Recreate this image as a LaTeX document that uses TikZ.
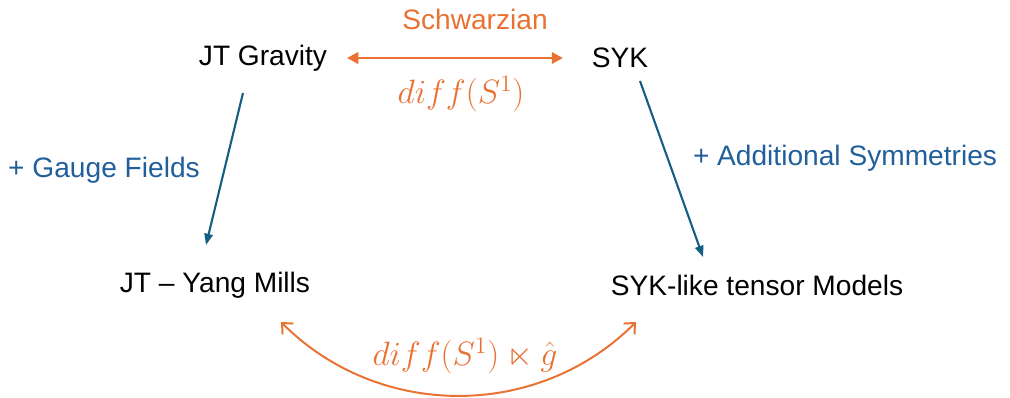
\RequirePackage{fix-cm}
\documentclass[tikz,border=0pt]{standalone}
\usepackage{amsmath,amssymb}
\usepackage{fontspec}
\setmainfont{Liberation Sans}
\usetikzlibrary{arrows.meta,calc}
\definecolor{accorange}{HTML}{E97132}
\definecolor{accblue}{HTML}{156082}
\definecolor{labblue}{HTML}{215F9A}

\begin{document}
\begin{tikzpicture}[x=0.025cm,y=-0.025cm,
  every node/.style={font=\fontsize{20}{24}\selectfont,inner sep=0pt},
  mathlab/.style={text=accorange,font=\fontsize{24}{28}\selectfont},
  sidelab/.style={text=labblue},
  duality/.style={accorange,line width=2pt,{Triangle[length=8pt,width=8pt]}-{Triangle[length=8pt,width=8pt]}},
  extend/.style={accblue,line width=1.5pt,-{Triangle[length=8pt,width=6pt]}},
  symmetry/.style={accorange,line width=1.4pt,{Straight Barb[length=6pt,width=11pt]}-{Straight Barb[length=6pt,width=11pt]}}]
  \useasboundingbox (0,0) rectangle (1010,397);
  \node (jt) at (263,58) {JT Gravity};
  \node (syk) at (620,58) {SYK};
  \node (jtym) at (215,285) {JT – Yang Mills};
  \node (skm) at (757,285) {SYK-like tensor Models};
  \node[text=accorange] (schw) at (475,19) {Schwarzian};
  \node[mathlab] (diffs) at (461,94) {$diff(S^1)$};
  \node[sidelab] (gauge) at (104,170) {+ Gauge Fields};
  \node[sidelab] (addsym) at (845,158) {+ Additional Symmetries};
  \node[mathlab] (semi) at (465,356) {$diff(S^1)\ltimes\hat{g}$};
  \draw[duality] ([shift={(84,0)}]jt.center) -- ([shift={(-57,0)}]syk.center);
  \draw[extend] ([shift={(-20,35)}]jt.center) -- ([shift={(-9,-40)}]jtym.center);
  \draw[extend] ([shift={(20,23)}]syk.center) -- ([shift={(-54,-28)}]skm.center);
  \draw[symmetry] ([shift={(66,37)}]jtym.center) .. controls +(98,98) and +(-98,98) .. ([shift={(-121,37)}]skm.center);
\end{tikzpicture}
\end{document}
